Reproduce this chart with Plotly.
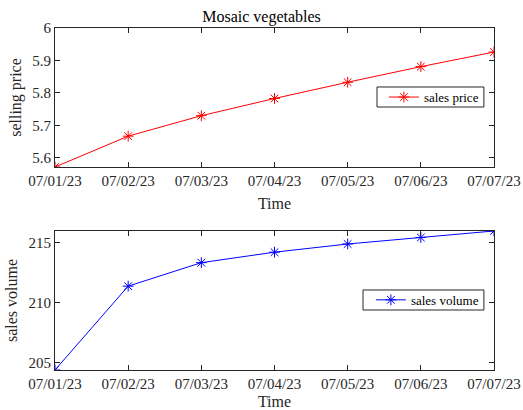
import plotly.graph_objects as go
from plotly.subplots import make_subplots

dates = ["07/01/23", "07/02/23", "07/03/23", "07/04/23", "07/05/23", "07/06/23", "07/07/23"]
price = [5.572, 5.667, 5.730, 5.783, 5.833, 5.881, 5.926]
volume = [204.4, 211.36, 213.31, 214.18, 214.86, 215.4, 215.94]
price_ticks = [5.6, 5.7, 5.8, 5.9, 6]
volume_ticks = [205, 210, 215]

FONT = "Liberation Serif, Times New Roman, serif"
AX = "#262626"

fig = make_subplots(rows=2, cols=1, vertical_spacing=0.187)
x_idx = list(range(len(dates)))

fig.add_trace(go.Scatter(x=x_idx, y=price, mode="lines+markers", name="sales price",
                         line=dict(color="#ff0000", width=1),
                         marker=dict(symbol="asterisk-open", size=9, color="#ff0000",
                                     line=dict(width=1, color="#ff0000")),
                         legend="legend"), row=1, col=1)
fig.add_trace(go.Scatter(x=x_idx, y=volume, mode="lines+markers", name="sales volume",
                         line=dict(color="#0000ff", width=1),
                         marker=dict(symbol="asterisk-open", size=9, color="#0000ff",
                                     line=dict(width=1, color="#0000ff")),
                         legend="legend2"), row=2, col=1)

axis_common = dict(showline=True, linecolor=AX, linewidth=1, mirror="ticks", ticks="inside",
                   ticklen=5, tickcolor=AX, showgrid=False, zeroline=False,
                   tickfont=dict(family=FONT, size=15, color=AX))

fig.update_xaxes(**axis_common, range=[0, 6], tickvals=x_idx, ticktext=dates,
                 title=dict(text="Time", font=dict(family=FONT, size=16, color=AX), standoff=9))
fig.update_yaxes(**axis_common)
fig.update_yaxes(range=[5.572, 6], tickvals=price_ticks, ticktext=["5.6", "5.7", "5.8", "5.9", "6"],
                 title=dict(text="selling price", font=dict(family=FONT, size=16, color=AX), standoff=6),
                 row=1, col=1)
fig.update_yaxes(range=[204.4, 215.94], tickvals=volume_ticks,
                 title=dict(text="sales volume", font=dict(family=FONT, size=16, color=AX), standoff=6),
                 row=2, col=1)

# legend frames
fig.add_shape(type="rect", xref="paper", yref="paper", x0=0.7335, x1=0.977, y0=0.769, y1=0.8275,
              line=dict(color=AX, width=1), fillcolor="white", layer="above")
fig.add_shape(type="rect", xref="paper", yref="paper", x0=0.7016, x1=0.977, y0=0.1754, y1=0.234,
              line=dict(color=AX, width=1), fillcolor="white", layer="above")

fig.update_layout(
    width=523, height=410,
    margin=dict(l=55, r=29, t=28, b=40, autoexpand=False),
    paper_bgcolor="white", plot_bgcolor="white",
    font=dict(family=FONT, color=AX),
    title=dict(text="Mosaic vegetables", x=0.5, xanchor="center", y=1 - 16 / 410, yanchor="middle",
               font=dict(family=FONT, size=16, color="black")),
    legend=dict(x=0.977, y=0.798, xanchor="right", yanchor="middle", borderwidth=0,
                bgcolor="rgba(0,0,0,0)", font=dict(family=FONT, size=13, color="black"),
                itemwidth=30, tracegroupgap=0),
    legend2=dict(x=0.977, y=0.205, xanchor="right", yanchor="middle", borderwidth=0,
                 bgcolor="rgba(0,0,0,0)", font=dict(family=FONT, size=13, color="black"),
                 itemwidth=30, tracegroupgap=0),
    showlegend=True,
)

fig.write_html("out.html", config={"displayModeBar": False},
               post_script="document.body.style.margin='0';document.body.style.overflow='hidden';")
